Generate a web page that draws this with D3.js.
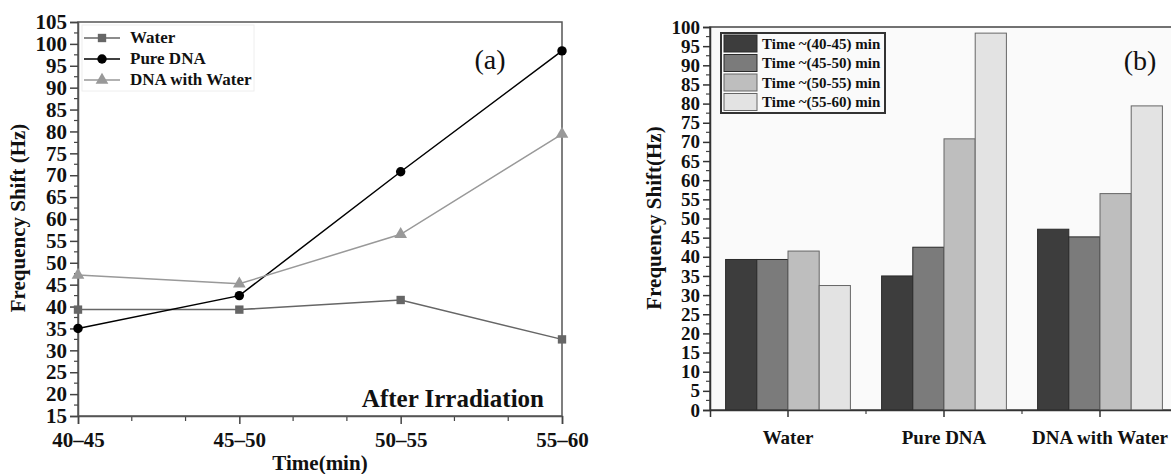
<!DOCTYPE html>
<html lang="en">
<head>
<meta charset="UTF-8">
<title>Frequency Shift</title>
<script src="https://d3js.org/d3.v7.min.js"></script>
<style>
    body { margin: 0; background: #fff; }
    svg { display: block; font-family: "Liberation Serif", "Times New Roman", serif; }
    .bold { font-weight: bold; }
</style>
</head>
<body>
<div id="chart"></div>
<script>
    // data
    const times = ["40–45", "45–50", "50–55", "55–60"];
    const water = [39.3, 39.3, 41.5, 32.5];
    const pureDNA = [35.0, 42.5, 70.8, 98.4];
    const dnaWater = [47.2, 45.2, 56.5, 79.4];

    const groups = ["Water", "Pure DNA", "DNA with Water"];
    const periods = ["Time ~(40-45) min", "Time ~(45-50) min", "Time ~(50-55) min", "Time ~(55-60) min"];
    const barColors = ["#3d3d3d", "#7b7b7b", "#bebebe", "#e3e3e3"];

    const yTicksA = d3.range(15, 106, 5);
    const yTicksB = d3.range(0, 101, 5);

    const w = 1171, h = 474;
    const svg = d3.select("#chart").append("svg").attr("width", w).attr("height", h);
    svg.append("rect").attr("width", w).attr("height", h).attr("fill", "#fff");

    // ---------- (a) line chart ----------
    const ax0 = 78, ax1 = 562, ay0 = 416, ay1 = 22;
    const xA = d3.scalePoint().domain(times).range([ax0, ax1]);
    const xIdx = d3.scaleLinear().domain([0, times.length - 1]).range([ax0, ax1]);
    const yA = d3.scaleLinear().domain([15, 105]).range([ay0, ay1]);

    const gA = svg.append("g");
    // frame
    gA.append("rect").attr("x", ax0).attr("y", ay1).attr("width", ax1 - ax0).attr("height", ay0 - ay1)
        .attr("fill", "none").attr("stroke", "#555").attr("stroke-width", 1.5);

    // minor ticks
    gA.selectAll(".myA").data(d3.range(15, 105, 2.5).filter(d => d % 5 !== 0)).enter()
        .append("line").attr("x1", ax0 - 4).attr("x2", ax0).attr("y1", d => yA(d)).attr("y2", d => yA(d))
        .attr("stroke", "#444").attr("stroke-width", 1.2);
    gA.selectAll(".mxA").data(d3.range(0, 3.01, 1 / 3).filter(d => Math.abs(d - Math.round(d)) > 0.01)).enter()
        .append("line").attr("x1", d => xIdx(d)).attr("x2", d => xIdx(d)).attr("y1", ay0).attr("y2", ay0 + 5)
        .attr("stroke", "#444").attr("stroke-width", 1.2);

    const yAxisA = d3.axisLeft(yA).tickValues(yTicksA).tickSize(8).tickPadding(3);
    const gyA = gA.append("g").attr("transform", "translate(" + ax0 + ",0)").call(yAxisA);
    const xAxisA = d3.axisBottom(xA).tickSize(8).tickPadding(8);
    const gxA = gA.append("g").attr("transform", "translate(0," + ay0 + ")").call(xAxisA);
    [gyA, gxA].forEach(g => {
        g.select(".domain").attr("stroke", "#555").attr("stroke-width", 1.5);
        g.selectAll(".tick line").attr("stroke", "#444").attr("stroke-width", 1.5);
        g.selectAll("text").attr("class", "bold").attr("font-family", "Liberation Serif")
            .attr("font-size", 21).attr("fill", "#111");
    });

    const seriesA = [
        { name: "Water", values: water, color: "#666", marker: "square" },
        { name: "Pure DNA", values: pureDNA, color: "#000", marker: "circle" },
        { name: "DNA with Water", values: dnaWater, color: "#999", marker: "triangle" }
    ];
    const symbolOf = m => m === "square" ? d3.symbolSquare : (m === "circle" ? d3.symbolCircle : d3.symbolTriangle);

    const line = d3.line().x((d, i) => xA(times[i])).y(d => yA(d));
    seriesA.forEach(s => {
        gA.append("path").datum(s.values).attr("d", line).attr("fill", "none")
            .attr("stroke", s.color).attr("stroke-width", 1.5);
        gA.selectAll(null).data(s.values).enter().append("path")
            .attr("d", d3.symbol().type(symbolOf(s.marker)).size(70))
            .attr("transform", (d, i) => "translate(" + xA(times[i]) + "," + yA(d) + ")")
            .attr("fill", s.color);
    });

    // legend (a)
    const legA = gA.append("g");
    legA.append("rect").attr("x", 82).attr("y", 25).attr("width", 172).attr("height", 66)
        .attr("fill", "#fff").attr("stroke", "#eee");
    seriesA.forEach((s, i) => {
        const ly = 38 + i * 21;
        legA.append("line").attr("x1", 84).attr("x2", 120).attr("y1", ly).attr("y2", ly)
            .attr("stroke", s.color).attr("stroke-width", 1.5);
        legA.append("path").attr("d", d3.symbol().type(symbolOf(s.marker)).size(70))
            .attr("transform", "translate(102," + ly + ")").attr("fill", s.color);
        legA.append("text").attr("x", 130).attr("y", ly + 5).attr("class", "bold")
            .attr("font-size", 17).attr("fill", "#111").text(s.name);
    });

    gA.append("text").attr("x", 490).attr("y", 69).attr("text-anchor", "middle")
        .attr("font-size", 28).attr("fill", "#111").text("(a)");
    gA.append("text").attr("x", 544).attr("y", 407).attr("text-anchor", "end").attr("class", "bold")
        .attr("font-size", 25).attr("fill", "#111").text("After Irradiation");
    gA.append("text").attr("x", (ax0 + ax1) / 2).attr("y", 470).attr("text-anchor", "middle").attr("class", "bold")
        .attr("font-size", 21).attr("fill", "#111").text("Time(min)");
    gA.append("text").attr("transform", "translate(25,218) rotate(-90)").attr("text-anchor", "middle")
        .attr("class", "bold").attr("font-size", 21).attr("fill", "#111").text("Frequency Shift (Hz)");

    // ---------- (b) bar chart ----------
    const bx0 = 710, bx1 = 1178, by0 = 410, by1 = 27;
    const xB = d3.scaleBand().domain(groups).range([bx0, bx1]).paddingInner(0.2).paddingOuter(0.1);
    const xSub = d3.scaleBand().domain(periods).range([0, xB.bandwidth()]);
    const yB = d3.scaleLinear().domain([0, 100]).range([by0, by1]);

    const gB = svg.append("g");
    gB.append("rect").attr("x", bx0).attr("y", by1).attr("width", bx1 - bx0).attr("height", by0 - by1)
        .attr("fill", "#fafafa").attr("stroke", "#444").attr("stroke-width", 1.5);

    // bars: one per time period inside each sample group
    const barData = [];
    groups.forEach((g, gi) => {
        const src = [water, pureDNA, dnaWater][gi];
        periods.forEach((p, pi) => barData.push({ group: g, period: p, pi: pi, value: src[pi] }));
    });
    gB.selectAll(".bar").data(barData).enter().append("rect")
        .attr("x", d => xB(d.group) + xSub(d.period))
        .attr("y", d => yB(d.value))
        .attr("width", xSub.bandwidth())
        .attr("height", d => by0 - yB(d.value))
        .attr("fill", d => barColors[d.pi])
        .attr("stroke", d => d.pi < 2 ? "#2a2a2a" : "#666")
        .attr("stroke-width", 1);

    gB.selectAll(".myB").data(d3.range(2.5, 100, 5)).enter()
        .append("line").attr("x1", bx0 - 4).attr("x2", bx0).attr("y1", d => yB(d)).attr("y2", d => yB(d))
        .attr("stroke", "#444").attr("stroke-width", 1.2);
    gB.selectAll(".mxB").data(groups.slice(1)).enter()
        .append("line").attr("x1", d => xB(d) - xB.step() * xB.paddingInner() / 2)
        .attr("x2", d => xB(d) - xB.step() * xB.paddingInner() / 2)
        .attr("y1", by0).attr("y2", by0 + 4).attr("stroke", "#444").attr("stroke-width", 1.2);

    const yAxisB = d3.axisLeft(yB).tickValues(yTicksB).tickSize(7).tickPadding(3);
    const gyB = gB.append("g").attr("transform", "translate(" + bx0 + ",0)").call(yAxisB);
    const xAxisB = d3.axisBottom(xB).tickSize(7).tickPadding(14);
    const gxB = gB.append("g").attr("transform", "translate(0," + by0 + ")").call(xAxisB);
    [gyB, gxB].forEach(g => {
        g.select(".domain").attr("stroke", "#333").attr("stroke-width", 1.5);
        g.selectAll(".tick line").attr("stroke", "#333").attr("stroke-width", 1.5);
        g.selectAll("text").attr("class", "bold").attr("font-family", "Liberation Serif")
            .attr("font-size", 19).attr("fill", "#111");
    });

    // legend (b)
    const legB = gB.append("g");
    legB.append("rect").attr("x", 721).attr("y", 33).attr("width", 164).attr("height", 80)
        .attr("fill", "#fafafa").attr("stroke", "#333").attr("stroke-width", 2);
    periods.forEach((p, i) => {
        const ly = 35 + i * 19.5;
        legB.append("rect").attr("x", 724).attr("y", ly).attr("width", 33).attr("height", 17)
            .attr("fill", barColors[i]).attr("stroke", i < 2 ? "#2a2a2a" : "#666").attr("stroke-width", 1);
        legB.append("text").attr("x", 762).attr("y", ly + 13.5).attr("class", "bold")
            .attr("font-size", 15).attr("fill", "#111").text(p);
    });

    gB.append("text").attr("x", 1140).attr("y", 70).attr("text-anchor", "middle")
        .attr("font-size", 28).attr("fill", "#111").text("(b)");
    gB.append("text").attr("transform", "translate(661,218) rotate(-90)").attr("text-anchor", "middle")
        .attr("class", "bold").attr("font-size", 21).attr("fill", "#111").text("Frequency Shift(Hz)");
</script>
</body>
</html>
